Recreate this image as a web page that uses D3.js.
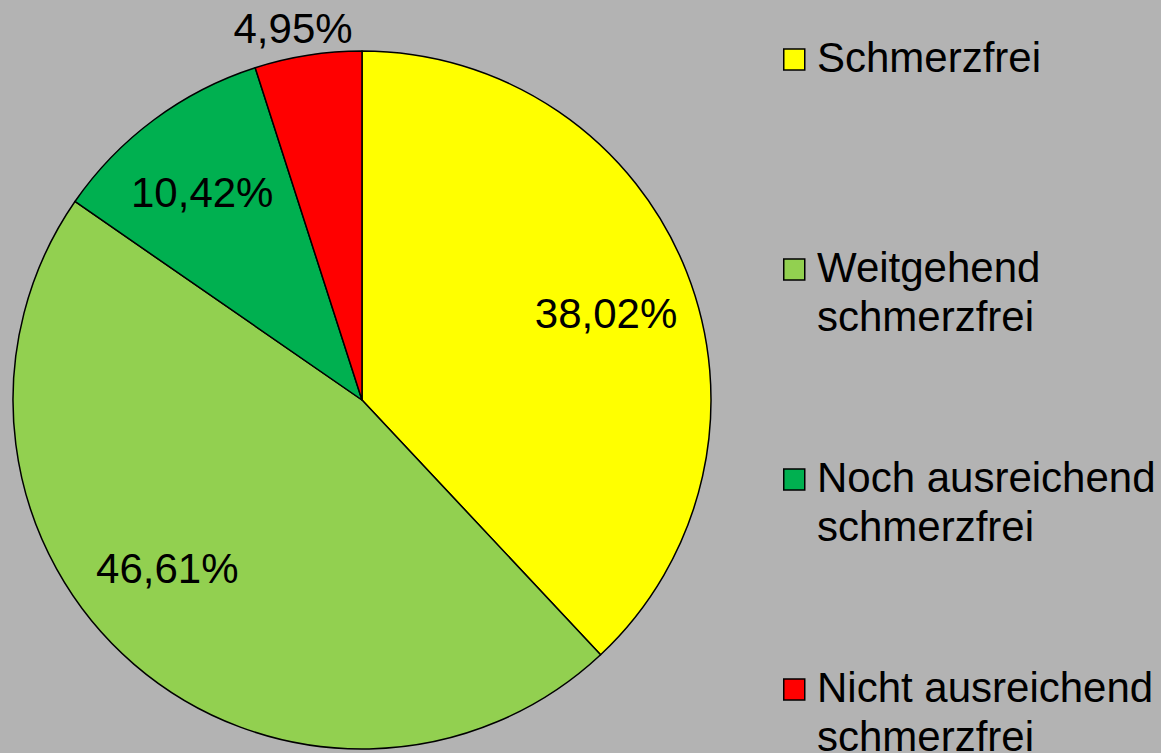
<!DOCTYPE html>
<html>
<head>
<meta charset="utf-8">
<script src="https://cdn.jsdelivr.net/npm/d3@7"></script>
<style>
  html, body { margin: 0; padding: 0; background: #b3b3b3; }
  svg { display: block; font-family: "Liberation Sans", Arial, sans-serif; }
</style>
</head>
<body>
<svg id="chart"></svg>
<script>
// Data
const categories = ['Schmerzfrei', 'Weitgehend schmerzfrei', 'Noch ausreichend schmerzfrei', 'Nicht ausreichend schmerzfrei'];
const legendLines = [['Schmerzfrei'], ['Weitgehend', 'schmerzfrei'], ['Noch ausreichend', 'schmerzfrei'], ['Nicht ausreichend', 'schmerzfrei']];
const values = [38.02, 46.61, 10.42, 4.95];
const labels = ['38,02%', '46,61%', '10,42%', '4,95%'];
const colors = ['#ffff00', '#92d050', '#00b050', '#ff0000'];

// Layout
const width = 1161;
const height = 753;
const cx = 362, cy = 400, radius = 349;
const fontSize = 42;
// label placement, roughly like Excel's best fit
const labelRadius = [259, 257, 262, 378];
const labelShiftDeg = [2, 8.5, -1, -1.6];

const svg = d3.select('#chart')
  .attr('width', width)
  .attr('height', height);

svg.append('rect')
  .attr('width', width)
  .attr('height', height)
  .attr('fill', '#b3b3b3');

const pie = d3.pie().sort(null).value(d => d);
const arcs = pie(values);
const arc = d3.arc().innerRadius(0).outerRadius(radius);

const g = svg.append('g').attr('transform', `translate(${cx},${cy})`);

g.selectAll('path')
  .data(arcs)
  .enter()
  .append('path')
  .attr('d', arc)
  .attr('fill', (d, i) => colors[i])
  .attr('stroke', '#000')
  .attr('stroke-width', 1.5)
  .attr('stroke-linejoin', 'round');

// Slice labels
g.selectAll('text.lbl')
  .data(arcs)
  .enter()
  .append('text')
  .attr('class', 'lbl')
  .attr('text-anchor', 'middle')
  .attr('font-size', fontSize)
  .attr('fill', '#000')
  .attr('x', (d, i) => {
    const a = (d.startAngle + d.endAngle) / 2 + labelShiftDeg[i] * Math.PI / 180;
    return labelRadius[i] * Math.sin(a);
  })
  .attr('y', (d, i) => {
    const a = (d.startAngle + d.endAngle) / 2 + labelShiftDeg[i] * Math.PI / 180;
    return -labelRadius[i] * Math.cos(a) + 15;
  })
  .text((d, i) => labels[i]);

// Legend
const legendX = 783, legendY = 72, legendStep = 210, lineH = 49;
const legend = svg.selectAll('g.legend')
  .data(categories)
  .enter()
  .append('g')
  .attr('class', 'legend')
  .attr('transform', (d, i) => `translate(${legendX},${legendY + i * legendStep})`);

legend.append('rect')
  .attr('x', 0.75)
  .attr('y', -23)
  .attr('width', 21)
  .attr('height', 21)
  .attr('fill', (d, i) => colors[i])
  .attr('stroke', '#000')
  .attr('stroke-width', 1.5);

legend.append('text')
  .attr('font-size', fontSize)
  .attr('fill', '#000')
  .selectAll('tspan')
  .data((d, i) => legendLines[i])
  .enter()
  .append('tspan')
  .attr('x', 34)
  .attr('y', (d, j) => j * lineH)
  .text(d => d);
</script>
</body>
</html>
